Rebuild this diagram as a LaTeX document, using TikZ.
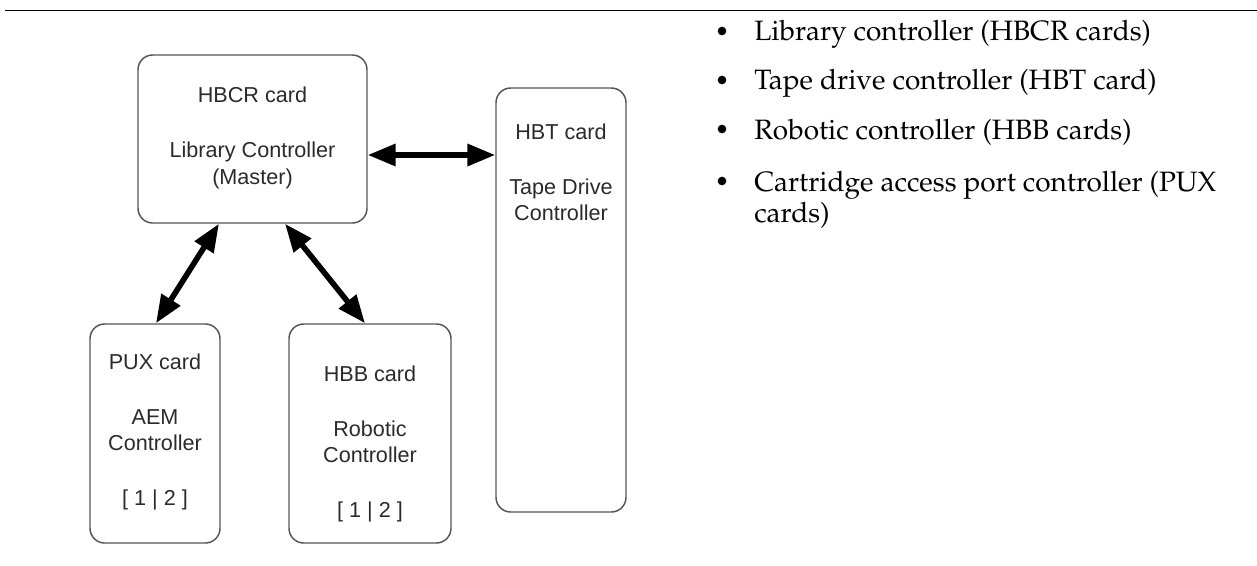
\documentclass[tikz,border=0pt]{standalone}
\usepackage[T1]{fontenc}
\usepackage{fontspec}
\setmainfont{Liberation Sans}
\usetikzlibrary{arrows.meta,calc}
\newdimen\pxu \pxu=0.75pt
\newcommand{\palfont}{\fontencoding{T1}\fontfamily{ppl}\fontsize{21pt}{25pt}\selectfont}
\definecolor{boxline}{HTML}{555555}
\definecolor{boxtext}{HTML}{2A2A2A}
\tikzset{
  cardbox/.style={draw=boxline, line width=1.1pt, rounded corners=11pt, inner sep=0pt},
  cardtext/.style={text=boxtext, font=\fontsize{16.2pt}{19.5pt}\selectfont, anchor=base, inner sep=0pt},
  bigarrow/.style={line width=4.2pt, {Triangle[length=21pt,width=16pt]}-{Triangle[length=21pt,width=16pt]}},
  bullettext/.style={font=\palfont, anchor=base west, inner sep=0pt},
  bulletdot/.style={circle, fill=black, inner sep=0pt, minimum size=6.5pt}
}
\begin{document}
\begin{tikzpicture}[x=0.75pt,y=-0.75pt]
\useasboundingbox (0,0) rectangle (1257,565);
% top rule
\draw[line width=0.8pt] (5,10.5) -- (1257,10.5);
% boxes
\node[cardbox, minimum width=229\pxu, minimum height=168\pxu] (hbcr) at (252.5,139) {};
\node[cardbox, minimum width=130\pxu, minimum height=424\pxu] (hbt) at (561,300) {};
\node[cardbox, minimum width=130\pxu, minimum height=219\pxu] (pux) at (155,433.5) {};
\node[cardbox, minimum width=162\pxu, minimum height=219\pxu] (hbb) at (370,433.5) {};
% texts
\node[cardtext] (t1) at (252.5,102) {HBCR card};
\node[cardtext] (t2) at (252.5,157) {Library Controller};
\node[cardtext] (t3) at (252.5,184) {(Master)};
\node[cardtext] (t4) at (561,139) {HBT card};
\node[cardtext] (t5) at (561,194) {Tape Drive};
\node[cardtext] (t6) at (561,220) {Controller};
\node[cardtext] (t7) at (155,369) {PUX card};
\node[cardtext] (t8) at (155,424) {AEM};
\node[cardtext] (t9) at (155,450) {Controller};
\node[cardtext] (t10) at (155,505) {[ 1 | 2 ]};
\node[cardtext] (t11) at (370,381) {HBB card};
\node[cardtext] (t12) at (370,436) {Robotic};
\node[cardtext] (t13) at (370,462) {Controller};
\node[cardtext] (t14) at (370,517) {[ 1 | 2 ]};
% connectors
\coordinate (ha) at (0,155);
\draw[bigarrow] (hbcr.east |- ha) -- (hbt.west |- ha);
\draw[bigarrow] ($(hbcr.south)+(-33.5,0)$) -- ($(pux.north)+(1,0)$);
\draw[bigarrow] ($(hbcr.south)+(32.5,0)$) -- ($(hbb.north)+(-5,0)$);
% bullet list
\node[bulletdot] (b1) at (722,31) {};
\node[bulletdot] (b2) at (722,80) {};
\node[bulletdot] (b3) at (722,129) {};
\node[bulletdot] (b4) at (722,181) {};
\node[bullettext] (l1) at (754,40) {Library controller (HBCR cards)};
\node[bullettext] (l2) at (754,89) {Tape drive controller (HBT card)};
\node[bullettext] (l3) at (754,139) {Robotic controller (HBB cards)};
\node[bullettext] (l4) at (754,191) {Cartridge access port controller (PUX};
\node[bullettext] (l5) at (754,222) {cards)};
\end{tikzpicture}
\end{document}
